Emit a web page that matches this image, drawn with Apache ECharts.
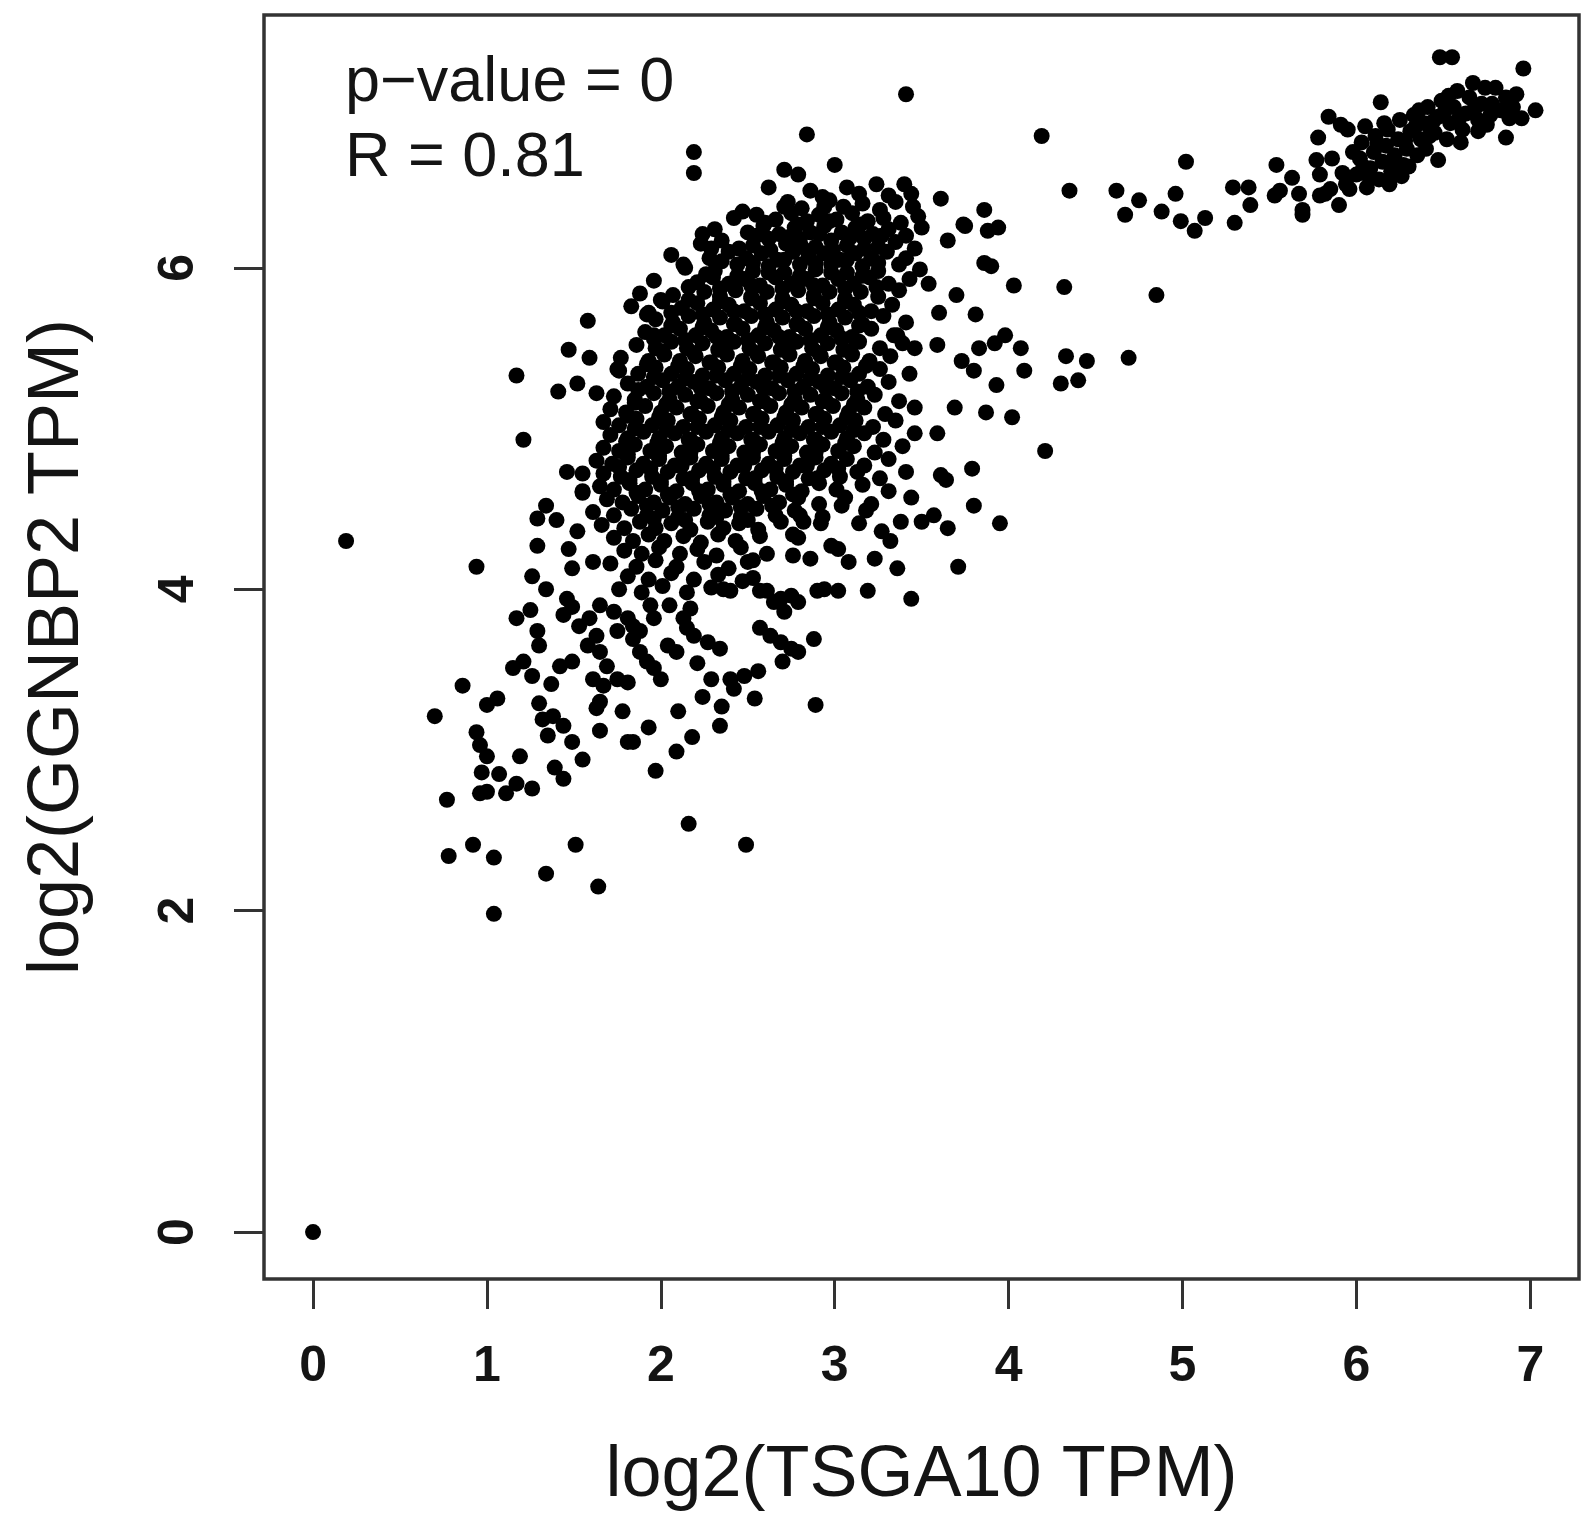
<!DOCTYPE html>
<html>
<head>
<meta charset="utf-8">
<script src="https://cdn.jsdelivr.net/npm/echarts@6/dist/echarts.min.js"></script>
<style>
  html, body { margin: 0; padding: 0; background: #fff; }
  #scatter { width: 1595px; height: 1517px; }
</style>
</head>
<body>
<div id="scatter"></div>
<script>
var chartDom = document.getElementById('scatter');
var myChart = echarts.init(chartDom);
var option;

var xTicks = [0, 1, 2, 3, 4, 5, 6, 7];
var yTicks = [0, 2, 4, 6];
var statLines = ['p\u2212value = 0', 'R = 0.81'];

// log2(TSGA10 TPM), log2(GGNBP2 TPM)
var originPoint = [[0, 0]];

var lowTail = [
  [0.19,4.30],[0.94,4.14],[0.86,3.40],[0.70,3.21],[0.77,2.69],[0.78,2.34],[0.92,2.41],[1.04,2.33],
  [1.34,2.23],[1.51,2.41],[1.64,2.15],[1.04,1.98],[2.16,2.54],[2.49,2.41],[1.97,2.87],
  [1.00,3.28],[1.06,3.32],[0.94,3.11],[0.96,3.03],[1.00,2.96],[1.19,2.96],[0.97,2.86],[1.07,2.85],
  [0.96,2.73],[1.00,2.74],[1.11,2.73],[1.17,2.79],[1.26,2.76],[1.39,2.89],[1.44,2.82],[1.30,3.29],
  [1.32,3.19],[1.38,3.21],[1.44,3.15],[1.49,3.05],[1.55,2.94],[1.35,3.09],
  [1.15,3.51],[1.21,3.55],[1.26,3.46],[1.37,3.41],[1.17,3.82],[1.25,3.87],[1.29,3.74],[1.30,3.65],
  [1.44,3.84],[1.26,4.08],[1.34,4.00],[1.46,3.94],[1.49,3.89],[1.29,4.27],[1.47,4.25],[1.52,4.36],
  [1.55,4.60],[1.49,4.13],[1.61,4.17],[1.34,4.52],[1.29,4.44],[1.40,4.43],
  [1.65,3.12],[1.81,3.05],[1.84,3.05],[1.78,3.24],[1.93,3.14],[2.10,3.24],[2.09,2.99],[2.18,3.08],
  [2.24,3.33],[2.35,3.27],[2.34,3.15],[2.54,3.32],[2.29,3.44],[2.40,3.44],[2.48,3.46],[2.56,3.49],
  [2.42,3.38],[2.21,3.54],[2.70,3.55],[2.89,3.28],[1.63,3.26],[1.65,3.30],
  [1.53,3.77],[1.59,3.82],[1.63,3.71],[1.58,3.65],[1.65,3.61],[1.69,3.52],[1.61,3.44],[1.67,3.40],
  [1.75,3.44],[1.81,3.42],[1.42,3.52],[1.49,3.55],[1.65,3.90],[1.73,3.86],[1.81,3.82],[1.84,3.77],
  [1.75,3.74],[1.84,3.69],[1.88,3.61],[1.92,3.55],[1.96,3.51],[2.00,3.44],[1.94,3.90],[1.96,3.82],
  [1.88,3.74],[2.05,3.90],[2.13,3.82],[2.17,3.88],[2.15,3.76],[2.19,3.71],[2.27,3.67],[2.34,3.63],
  [2.04,3.65],[2.09,3.61],[2.57,3.76],[2.63,3.71],[2.69,3.67],[2.75,3.63],[2.79,3.61],[2.71,3.86],
  [2.75,3.96],[2.88,3.69],[2.90,3.99],[2.53,4.07],[2.61,3.99],[2.65,3.92],[2.36,4.00],[2.40,3.99]
];

var coreCloud = [
  [2.86,6.48],[2.93,6.44],[3.07,6.50],[3.14,6.46],[3.24,6.52],[3.31,6.45],
  [2.73,6.41],[2.81,6.37],[2.97,6.42],[3.05,6.38],[3.16,6.40],[3.26,6.36],[3.35,6.41],[3.45,6.38],
  [2.42,6.31],[2.55,6.33],[2.66,6.30],[2.75,6.34],[2.84,6.29],[2.91,6.33],[3.01,6.30],[3.10,6.34],[3.19,6.29],[3.28,6.31],[3.38,6.28],[3.48,6.32],
  [2.31,6.24],[2.50,6.22],[2.59,6.26],[2.68,6.21],[2.77,6.25],[2.86,6.22],[2.94,6.26],[3.04,6.22],[3.12,6.25],[3.22,6.21],[3.31,6.24],[3.41,6.20],[3.50,6.25],
  [2.23,6.15],[2.35,6.17],[2.53,6.14],[2.62,6.18],[2.72,6.15],[2.80,6.18],[2.89,6.13],[2.98,6.17],[3.07,6.14],[3.17,6.18],[3.25,6.13],[3.35,6.16],[3.46,6.12],
  [2.06,6.08],[2.28,6.06],[2.39,6.10],[2.49,6.06],[2.58,6.09],[2.67,6.05],[2.76,6.10],[2.85,6.07],[2.94,6.09],[3.03,6.05],[3.12,6.09],[3.21,6.06],[3.30,6.10],[3.41,6.06],
  [2.14,6.00],[2.31,5.98],[2.44,6.02],[2.53,5.98],[2.62,6.01],[2.71,5.97],[2.80,6.02],[2.89,5.99],[2.98,6.02],[3.07,5.97],[3.16,6.01],[3.25,5.98],[3.37,6.02],[3.49,5.99],
  [1.96,5.92],[2.21,5.91],[2.30,5.94],[2.39,5.90],[2.48,5.93],[2.57,5.89],[2.66,5.94],[2.75,5.90],[2.84,5.93],[2.93,5.89],[3.02,5.93],[3.11,5.90],[3.20,5.94],[3.31,5.90],[3.43,5.93],
  [1.88,5.84],[2.07,5.83],[2.25,5.85],[2.34,5.82],[2.43,5.86],[2.52,5.82],[2.61,5.85],[2.70,5.81],[2.79,5.86],[2.88,5.83],[2.97,5.85],[3.06,5.81],[3.15,5.85],[3.25,5.82],[3.37,5.86],
  [1.83,5.76],[1.93,5.72],[2.01,5.79],[2.12,5.75],[2.21,5.78],[2.30,5.74],[2.39,5.77],[2.48,5.73],[2.57,5.78],[2.66,5.74],[2.75,5.77],[2.84,5.73],[2.93,5.78],[3.02,5.74],[3.11,5.77],[3.21,5.73],[3.33,5.77],
  [1.97,5.68],[2.07,5.66],[2.16,5.70],[2.25,5.66],[2.34,5.69],[2.43,5.65],[2.52,5.70],[2.61,5.66],[2.70,5.69],[2.79,5.65],[2.88,5.70],[2.97,5.66],[3.06,5.69],[3.16,5.65],[3.28,5.70],[3.41,5.66],
  [1.91,5.60],[2.02,5.58],[2.11,5.62],[2.20,5.58],[2.29,5.61],[2.38,5.57],[2.47,5.62],[2.56,5.58],[2.65,5.61],[2.74,5.57],[2.83,5.62],[2.92,5.58],[3.01,5.61],[3.10,5.57],[3.21,5.62],[3.34,5.58],
  [1.86,5.52],[1.97,5.50],[2.06,5.54],[2.15,5.50],[2.24,5.53],[2.33,5.49],[2.42,5.54],[2.51,5.50],[2.60,5.53],[2.69,5.49],[2.78,5.54],[2.87,5.50],[2.96,5.53],[3.05,5.49],[3.14,5.54],[3.26,5.50],[3.39,5.53],
  [1.77,5.44],[1.93,5.42],[2.02,5.46],[2.11,5.42],[2.20,5.45],[2.29,5.41],[2.38,5.46],[2.47,5.42],[2.56,5.45],[2.65,5.41],[2.74,5.46],[2.83,5.42],[2.92,5.45],[3.01,5.41],[3.10,5.46],[3.20,5.42],[3.32,5.45],
  [1.76,5.36],[1.87,5.34],[1.97,5.38],[2.06,5.34],[2.15,5.37],[2.24,5.33],[2.33,5.38],[2.42,5.34],[2.51,5.37],[2.60,5.33],[2.69,5.38],[2.78,5.34],[2.87,5.37],[2.96,5.33],[3.05,5.38],[3.14,5.34],[3.26,5.37],[3.43,5.34],
  [1.81,5.28],[1.92,5.26],[2.01,5.30],[2.10,5.26],[2.19,5.29],[2.28,5.25],[2.37,5.30],[2.46,5.26],[2.55,5.29],[2.64,5.25],[2.73,5.30],[2.82,5.26],[2.91,5.29],[3.00,5.25],[3.09,5.30],[3.19,5.26],[3.31,5.29],
  [1.73,5.20],[1.85,5.18],[1.96,5.22],[2.05,5.18],[2.14,5.21],[2.23,5.17],[2.32,5.22],[2.41,5.18],[2.50,5.21],[2.59,5.17],[2.68,5.22],[2.77,5.18],[2.86,5.21],[2.95,5.17],[3.04,5.22],[3.13,5.18],[3.23,5.21],[3.37,5.17],
  [1.71,5.12],[1.80,5.10],[1.91,5.14],[2.00,5.10],[2.09,5.13],[2.18,5.09],[2.27,5.14],[2.36,5.10],[2.45,5.13],[2.54,5.09],[2.63,5.14],[2.72,5.10],[2.81,5.13],[2.90,5.09],[2.99,5.14],[3.08,5.10],[3.17,5.13],[3.29,5.09],[3.46,5.13],
  [1.67,5.04],[1.76,5.02],[1.86,5.06],[1.95,5.02],[2.04,5.05],[2.13,5.01],[2.22,5.06],[2.31,5.02],[2.40,5.05],[2.49,5.01],[2.58,5.06],[2.67,5.02],[2.76,5.05],[2.85,5.01],[2.94,5.06],[3.03,5.02],[3.12,5.05],[3.22,5.01],[3.35,5.05],
  [1.71,4.96],[1.81,4.94],[1.90,4.98],[1.99,4.94],[2.08,4.97],[2.17,4.93],[2.26,4.98],[2.35,4.94],[2.44,4.97],[2.53,4.93],[2.62,4.98],[2.71,4.94],[2.80,4.97],[2.89,4.93],[2.98,4.98],[3.07,4.94],[3.17,4.97],[3.28,4.93],[3.46,4.97],
  [1.67,4.88],[1.76,4.86],[1.85,4.90],[1.94,4.86],[2.03,4.89],[2.12,4.85],[2.21,4.90],[2.30,4.86],[2.39,4.89],[2.48,4.85],[2.57,4.90],[2.66,4.86],[2.75,4.89],[2.84,4.85],[2.93,4.90],[3.02,4.86],[3.11,4.89],[3.23,4.85],[3.39,4.89],
  [1.63,4.80],[1.72,4.78],[1.81,4.82],[1.90,4.78],[1.99,4.81],[2.08,4.77],[2.17,4.82],[2.26,4.78],[2.35,4.81],[2.44,4.77],[2.53,4.82],[2.62,4.78],[2.71,4.81],[2.80,4.77],[2.89,4.82],[2.98,4.78],[3.07,4.81],[3.17,4.77],[3.31,4.81],
  [1.67,4.72],[1.77,4.70],[1.86,4.74],[1.95,4.70],[2.04,4.73],[2.13,4.69],[2.22,4.74],[2.31,4.70],[2.40,4.73],[2.49,4.69],[2.58,4.74],[2.67,4.70],[2.76,4.73],[2.85,4.69],[2.94,4.74],[3.03,4.70],[3.13,4.73],[3.26,4.69],[3.41,4.73],
  [1.65,4.64],[1.73,4.62],[1.82,4.66],[1.91,4.62],[2.00,4.65],[2.09,4.61],[2.18,4.66],[2.27,4.62],[2.36,4.65],[2.45,4.61],[2.54,4.66],[2.63,4.62],[2.72,4.65],[2.81,4.61],[2.91,4.66],[3.01,4.62],[3.16,4.65],[3.31,4.61],
  [1.69,4.56],[1.78,4.54],[1.87,4.58],[1.96,4.54],[2.05,4.57],[2.14,4.53],[2.23,4.58],[2.32,4.54],[2.41,4.57],[2.50,4.53],[2.59,4.58],[2.68,4.54],[2.79,4.57],[2.91,4.53],[3.06,4.57],[3.21,4.53],
  [1.61,4.48],[1.73,4.46],[1.83,4.50],[1.92,4.46],[2.01,4.49],[2.10,4.45],[2.19,4.50],[2.28,4.46],[2.37,4.49],[2.46,4.45],[2.55,4.50],[2.66,4.46],[2.77,4.49],[2.93,4.45],
  [1.66,4.40],[1.79,4.38],[1.88,4.42],[1.97,4.38],[2.06,4.41],[2.17,4.37],[2.27,4.42],[2.36,4.38],[2.45,4.41],[2.56,4.37],[2.69,4.42],
  [1.73,4.32],[1.84,4.30],[1.93,4.34],[2.02,4.30],[2.13,4.33],[2.23,4.29],[2.33,4.34],[2.43,4.30],[2.57,4.33],
  [1.79,4.24],[1.89,4.22],[1.99,4.26],[2.11,4.22],[2.21,4.25],[2.32,4.21],[2.46,4.26],[2.61,4.22],
  [1.71,4.16],[1.86,4.14],[1.97,4.18],[2.09,4.14],[2.25,4.17],[2.39,4.13],[2.53,4.18],
  [1.81,4.08],[1.93,4.06],[2.06,4.10],[2.19,4.06],[2.33,4.09],[2.47,4.05],
  [1.76,4.00],[1.89,3.98],[2.01,4.02],[2.15,3.98],[2.29,4.01]
];

// extra points in the solid middle of the cloud
var coreFill = [
  [2.60,6.28],[2.79,6.27],[2.97,6.29],[3.15,6.27],
  [2.55,6.20],[2.73,6.19],[2.91,6.21],[3.09,6.19],[3.27,6.20],
  [2.45,6.12],[2.63,6.11],[2.81,6.13],[2.99,6.11],[3.17,6.12],
  [2.35,6.04],[2.53,6.03],[2.71,6.05],[2.89,6.03],[3.07,6.05],[3.25,6.03],
  [2.26,5.96],[2.44,5.95],[2.62,5.97],[2.80,5.95],[2.98,5.97],[3.16,5.95],
  [2.16,5.88],[2.34,5.87],[2.52,5.89],[2.70,5.87],[2.88,5.89],[3.06,5.87],[3.24,5.88],
  [2.16,5.80],[2.34,5.79],[2.52,5.81],[2.70,5.79],[2.88,5.81],[3.06,5.79],
  [2.06,5.72],[2.24,5.71],[2.42,5.73],[2.60,5.71],[2.78,5.73],[2.96,5.71],[3.14,5.72],
  [2.06,5.64],[2.24,5.63],[2.42,5.65],[2.60,5.63],[2.78,5.65],[2.96,5.63],[3.14,5.64],
  [1.96,5.56],[2.14,5.55],[2.32,5.57],[2.50,5.55],[2.68,5.57],[2.86,5.55],[3.04,5.56],
  [2.01,5.48],[2.19,5.47],[2.37,5.49],[2.55,5.47],[2.73,5.49],[2.91,5.47],[3.09,5.48],
  [1.92,5.40],[2.10,5.39],[2.28,5.41],[2.46,5.39],[2.64,5.41],[2.82,5.39],[3.00,5.41],[3.18,5.39],
  [1.96,5.32],[2.14,5.31],[2.32,5.33],[2.50,5.31],[2.68,5.33],[2.86,5.31],[3.04,5.32],
  [1.87,5.24],[2.05,5.23],[2.23,5.25],[2.41,5.23],[2.59,5.25],[2.77,5.23],[2.95,5.25],[3.13,5.23],
  [1.85,5.16],[2.03,5.15],[2.21,5.17],[2.39,5.15],[2.57,5.17],[2.75,5.15],[2.93,5.17],[3.11,5.15],
  [1.81,5.08],[1.99,5.07],[2.17,5.09],[2.35,5.07],[2.53,5.09],[2.71,5.07],[2.89,5.09],[3.07,5.07],
  [1.85,5.00],[2.03,4.99],[2.21,5.01],[2.39,4.99],[2.57,5.01],[2.75,4.99],[2.93,5.01],[3.11,4.99],
  [1.80,4.92],[1.98,4.91],[2.16,4.93],[2.34,4.91],[2.52,4.93],[2.70,4.91],[2.88,4.93],[3.06,4.91],
  [1.81,4.84],[1.99,4.83],[2.17,4.85],[2.35,4.83],[2.53,4.85],[2.71,4.83],[2.89,4.85],
  [1.76,4.76],[1.94,4.75],[2.12,4.77],[2.30,4.75],[2.48,4.77],[2.66,4.75],[2.84,4.77],[3.02,4.75],
  [1.82,4.68],[2.00,4.67],[2.18,4.69],[2.36,4.67],[2.54,4.69],[2.72,4.67],[2.90,4.69],
  [1.86,4.60],[2.04,4.59],[2.22,4.61],[2.40,4.59],[2.58,4.61],[2.76,4.59],
  [1.92,4.52],[2.10,4.51],[2.28,4.53],[2.46,4.51],[2.64,4.52],
  [1.96,4.44],[2.14,4.43],[2.32,4.45],[2.50,4.43]
];

var rimPoints = [
  [2.19,6.72],[2.19,6.59],[2.47,6.35],[2.24,6.21],[2.29,6.12],[2.13,6.02],[1.92,5.71],[2.00,5.80],
  [1.96,5.58],[1.58,5.67],[1.47,5.49],[1.59,5.44],[1.75,5.37],[1.17,5.33],[1.41,5.23],[1.52,5.28],
  [1.63,5.22],[1.21,4.93],[1.46,4.73],[1.55,4.72],[1.55,4.61],[2.84,6.83],[3.00,6.64],[2.71,6.61],
  [2.79,6.58],[2.62,6.50],[2.71,6.38],[2.94,6.38],[3.40,6.52],[3.44,6.46],[3.61,6.43],[3.86,6.36],
  [3.74,6.27],[3.88,6.23],[3.94,6.25],[3.65,6.17],[3.86,6.03],[3.90,6.01],[3.54,5.90],[3.70,5.83],
  [3.60,5.72],[3.81,5.71],[4.03,5.89],[3.36,5.58],[3.46,5.50],[3.59,5.52],[3.73,5.42],[3.80,5.36],
  [3.83,5.50],[3.92,5.53],[3.98,5.58],[4.07,5.50],[4.09,5.36],[3.93,5.27],[3.69,5.13],[3.87,5.10],
  [4.02,5.07],[3.59,4.97],[4.21,4.86],[3.79,4.75],[3.61,4.71],[3.64,4.68],[3.80,4.52],[3.95,4.41],
  [3.71,4.14],[3.44,4.57],[3.38,4.42],[3.50,4.42],[3.57,4.46],[3.65,4.38],[3.27,4.36],[3.32,4.30],
  [3.23,4.19],[3.36,4.13],[3.19,3.99],[3.44,3.94],[3.04,4.52],[3.18,4.49],[3.14,4.41],[2.92,4.41],
  [2.76,4.34],[2.98,4.27],[3.02,4.25],[2.76,4.21],[2.86,4.19],[3.08,4.17],[2.94,4.00],[3.02,3.99],
  [2.57,3.99],[2.69,3.94],[2.79,3.92],[2.80,4.46],[2.50,4.17],[2.82,4.42],[2.79,4.32],[3.41,7.08]
];

var bridgePoints = [
  [4.19,6.82],[4.35,6.48],[4.62,6.48],[4.67,6.33],[4.75,6.42],[4.88,6.35],[4.96,6.46],[5.02,6.66],
  [4.99,6.29],[5.07,6.23],[5.13,6.31],[5.30,6.28],[5.29,6.50],[5.38,6.50],[5.39,6.39],[4.85,5.83],
  [4.69,5.44],[4.33,5.45],[4.45,5.42],[4.30,5.28],[4.40,5.30],[4.32,5.88],[3.75,6.26]
];

var topCluster = [
  [5.54,6.64],[5.56,6.48],[5.63,6.56],[5.67,6.46],[5.69,6.36],[5.69,6.33],[5.53,6.45],[5.78,6.81],
  [5.84,6.94],[5.91,6.89],[5.95,6.86],[5.77,6.67],[5.79,6.58],[5.82,6.46],[5.90,6.39],[5.94,6.52],
  [5.86,6.68],[5.85,6.49],[5.92,6.59],[5.96,6.49],[5.79,6.45],[6.14,7.03],[6.40,6.74],[6.47,6.67],
  [6.48,7.31],[6.55,7.31],[6.96,7.24],[7.03,6.98],[6.75,6.89],[6.86,6.81],
  [6.00,6.58],[6.02,6.68],[6.03,6.78],[6.05,6.88],[6.08,6.62],[6.10,6.72],[6.11,6.82],[6.13,6.55],
  [6.15,6.66],[6.17,6.76],[6.18,6.86],[6.20,6.60],[6.22,6.70],[6.24,6.80],[6.25,6.92],[6.27,6.64],
  [6.29,6.74],[6.31,6.85],[6.33,6.95],[6.35,6.70],[6.37,6.80],[6.39,6.90],[6.41,7.00],[6.06,6.50],
  [6.19,6.52],[6.04,6.63],[6.12,6.77],[6.21,6.65],[6.28,6.79],[6.34,6.88],[6.16,6.90],
  [5.98,6.72],[6.07,6.57],[6.26,6.57],[6.30,6.63],[6.42,6.82],[6.36,6.98],
  [6.45,6.84],[6.47,6.94],[6.49,7.04],[6.52,6.80],[6.54,6.90],[6.56,7.00],[6.58,7.10],[6.61,6.86],
  [6.63,6.96],[6.65,7.06],[6.67,7.15],[6.70,6.92],[6.72,7.02],[6.74,7.12],[6.60,6.78],[6.51,6.98],
  [6.59,6.93],[6.68,6.99],[6.44,6.91],[6.53,7.07],[6.70,6.85],[6.77,6.95],
  [6.80,7.12],[6.86,7.06],[6.90,7.00],[6.95,6.93],[6.83,6.98],[6.78,7.02],[6.88,6.93],[6.92,7.08]
];

var allPoints = [].concat(originPoint, lowTail, coreCloud, coreFill, rimPoints, bridgePoints, topCluster);

var textColor = '#141414';
var fontFamily = 'Liberation Sans, Arial, sans-serif';

option = {
  animation: false,
  backgroundColor: '#fff',
  grid: {
    left: 264,
    top: 15,
    width: 1315,
    height: 1264,
    show: true,
    borderColor: '#333',
    borderWidth: 3.5
  },
  xAxis: {
    type: 'value',
    min: -0.282,
    max: 7.28,
    axisLine: { show: false, onZero: false },
    splitLine: { show: false },
    axisTick: {
      show: true,
      inside: false,
      length: 30,
      customValues: xTicks,
      lineStyle: { color: '#333', width: 3 }
    },
    axisLabel: {
      customValues: xTicks,
      margin: 63,
      fontSize: 50,
      fontWeight: 'bold',
      fontFamily: fontFamily,
      color: textColor
    },
    name: 'log2(TSGA10 TPM)',
    nameLocation: 'middle',
    nameGap: 161,
    nameTextStyle: { fontSize: 72, fontFamily: fontFamily, color: textColor }
  },
  yAxis: {
    type: 'value',
    min: -0.292,
    max: 7.573,
    axisLine: { show: false, onZero: false },
    splitLine: { show: false },
    axisTick: {
      show: true,
      inside: false,
      length: 30,
      customValues: yTicks,
      lineStyle: { color: '#333', width: 3 }
    },
    axisLabel: {
      customValues: yTicks,
      rotate: 90,
      margin: 60,
      fontSize: 50,
      fontWeight: 'bold',
      fontFamily: fontFamily,
      color: textColor
    },
    name: 'log2(GGNBP2 TPM)',
    nameLocation: 'middle',
    nameRotate: 90,
    nameGap: 170,
    nameTextStyle: { fontSize: 72, fontFamily: fontFamily, color: textColor }
  },
  graphic: [
    {
      type: 'text',
      left: 345,
      top: 52,
      style: { text: statLines[0], fontSize: 63, fontFamily: fontFamily, fill: textColor }
    },
    {
      type: 'text',
      left: 345,
      top: 127,
      style: { text: statLines[1], fontSize: 63, fontFamily: fontFamily, fill: textColor }
    }
  ],
  series: [
    {
      type: 'scatter',
      data: allPoints,
      symbol: 'circle',
      symbolSize: 16,
      itemStyle: { color: '#000', opacity: 1 },
      silent: true
    }
  ]
};

option && myChart.setOption(option);
</script>
</body>
</html>
